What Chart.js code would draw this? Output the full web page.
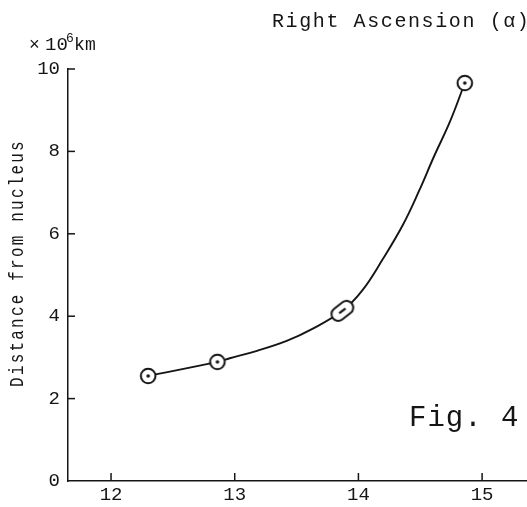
<!DOCTYPE html>
<html>
<head>
<meta charset="utf-8">
<script src="https://cdn.jsdelivr.net/npm/chart.js@4.4.1/dist/chart.umd.min.js"></script>
<style>
html,body{margin:0;padding:0;background:#fff;}
#wrap{width:527px;height:507px;position:relative;}
</style>
</head>
<body>
<div id="wrap"><canvas id="c" width="527" height="507"></canvas></div>
<script>
// ---- data ----
const obsRA   = [12.30, 12.86, 13.87, 14.86];          // right ascension (h)
const obsDist = [2.55, 2.89, 4.13, 9.66];              // distance from nucleus (x10^6 km)
const obsKind = ['circle', 'circle', 'capsule', 'circle'];

// hand-drawn curve
const curveRA   = [12.30, 12.86, 12.96, 13.18, 13.42, 13.62, 13.87, 14.03, 14.20, 14.36, 14.49, 14.61, 14.74, 14.86];
const curveDist = [2.55, 2.89, 2.98, 3.16, 3.40, 3.68, 4.13, 4.62, 5.40, 6.22, 7.04, 7.87, 8.72, 9.66];

const xTicks = [12, 13, 14, 15];
const yTicks = [0, 2, 4, 6, 8, 10];

const titleText = 'Right Ascension (\u03b1)';
const yLabelText = 'Distance from nucleus';
const figText = 'Fig. 4';

const INK = '#151515';
const FONT = '"Liberation Mono", "DejaVu Sans Mono", monospace';

// marker images
function circleMarker(){
  const c = document.createElement('canvas'); c.width = 20; c.height = 20;
  const g = c.getContext('2d');
  g.fillStyle = '#fff'; g.strokeStyle = INK; g.lineWidth = 2;
  g.beginPath(); g.arc(10, 10, 7.3, 0, Math.PI*2); g.fill(); g.stroke();
  g.fillStyle = INK; g.beginPath(); g.arc(10, 10, 1.8, 0, Math.PI*2); g.fill();
  return c;
}
function capsuleMarker(){
  const c = document.createElement('canvas'); c.width = 32; c.height = 32;
  const g = c.getContext('2d');
  g.translate(16, 16); g.rotate(-38*Math.PI/180);
  const L = 24, W = 13.5, r = W/2;
  g.fillStyle = '#fff'; g.strokeStyle = INK; g.lineWidth = 2;
  g.beginPath();
  g.moveTo(-L/2 + r, -r); g.lineTo(L/2 - r, -r);
  g.arc(L/2 - r, 0, r, -Math.PI/2, Math.PI/2);
  g.lineTo(-L/2 + r, r);
  g.arc(-L/2 + r, 0, r, Math.PI/2, Math.PI*1.5);
  g.closePath(); g.fill(); g.stroke();
  g.lineWidth = 2.2; g.beginPath(); g.moveTo(-4, 0); g.lineTo(4, 0); g.stroke();
  return c;
}
const imgs = { circle: circleMarker(), capsule: capsuleMarker() };

const decor = {
  id: 'decor',
  afterDraw(chart){
    const ctx = chart.ctx, xs = chart.scales.x, ys = chart.scales.y;
    const ca = chart.chartArea;
    ctx.save();
    ctx.strokeStyle = INK; ctx.lineWidth = 1.5;
    // inward tick marks
    yTicks.forEach(v => { if (v === 0) return;
      const p = ys.getPixelForValue(v);
      ctx.beginPath(); ctx.moveTo(ca.left, p); ctx.lineTo(ca.left + 7, p); ctx.stroke();
    });
    ctx.fillStyle = INK;
    ctx.font = '19px ' + FONT; ctx.textAlign = 'center'; ctx.textBaseline = 'middle';
    xTicks.forEach(v => {
      const p = xs.getPixelForValue(v);
      ctx.beginPath(); ctx.moveTo(p, ca.bottom); ctx.lineTo(p, ca.bottom - 8); ctx.stroke();
      ctx.fillText(String(v), p, ca.bottom + 14);
    });
    // title
    ctx.font = '20px ' + FONT; ctx.textBaseline = 'alphabetic'; ctx.textAlign = 'left';
    ctx.letterSpacing = '1.6px';
    ctx.fillText(titleText, 272, 27);
    // unit label
    ctx.letterSpacing = '0px';
    ctx.font = '18px ' + FONT;
    ctx.fillText('\u00d7', 29, 50);
    ctx.font = '19px ' + FONT;
    ctx.fillText('10', 45, 50);
    ctx.font = '13px ' + FONT; ctx.fillText('6', 66, 42);
    ctx.font = '18px ' + FONT; ctx.fillText('k', 74, 50);
    ctx.fillText('m', 85, 50);
    // y-axis title, rotated
    ctx.save();
    ctx.translate(17, 263); ctx.rotate(-Math.PI/2); ctx.scale(1, 1.3);
    ctx.font = '16px ' + FONT; ctx.textAlign = 'center'; ctx.textBaseline = 'middle';
    ctx.letterSpacing = '2.2px';
    ctx.fillText(yLabelText, 0, 0);
    ctx.restore();
    // Fig. 4
    ctx.font = '29px ' + FONT; ctx.letterSpacing = '1px'; ctx.textAlign = 'left';
    ctx.textBaseline = 'alphabetic';
    ctx.fillText(figText, 409, 426);
    ctx.restore();
  }
};

new Chart(document.getElementById('c'), {
  type: 'scatter',
  data: {
    datasets: [
      {
        label: 'curve',
        data: curveRA.map((x, i) => ({x, y: curveDist[i]})),
        showLine: true,
        borderColor: INK,
        borderWidth: 1.9,
        tension: 0.4,
        pointRadius: 0,
        order: 2
      },
      {
        label: 'observations',
        data: obsRA.map((x, i) => ({x, y: obsDist[i]})),
        showLine: false,
        pointStyle: obsKind.map(k => imgs[k]),
        pointRadius: 8,
        order: 1
      }
    ]
  },
  options: {
    responsive: false,
    animation: false,
    events: [],
    layout: { autoPadding: false, padding: { top: 69, right: 0, left: 0, bottom: 0 } },
    plugins: { legend: { display: false }, tooltip: { enabled: false } },
    scales: {
      x: {
        type: 'linear', min: 11.652, max: 15.363,
        afterBuildTicks: s => { s.ticks = xTicks.map(v => ({value: v})); },
        afterFit: s => { s.height = 26; },
        grid: { display: true, drawOnChartArea: false, drawTicks: false },
        border: { display: true, color: INK, width: 1.5 },
        ticks: { display: false }
      },
      y: {
        type: 'linear', min: 0, max: 10,
        afterBuildTicks: s => { s.ticks = yTicks.map(v => ({value: v})); },
        afterFit: s => { s.width = 68; },
        grid: { display: true, drawOnChartArea: false, drawTicks: false },
        border: { display: true, color: INK, width: 1.5 },
        ticks: { color: INK, font: { family: FONT, size: 19 }, padding: 8,
                 callback: v => String(v) }
      }
    }
  },
  plugins: [decor]
});
</script>
</body>
</html>
